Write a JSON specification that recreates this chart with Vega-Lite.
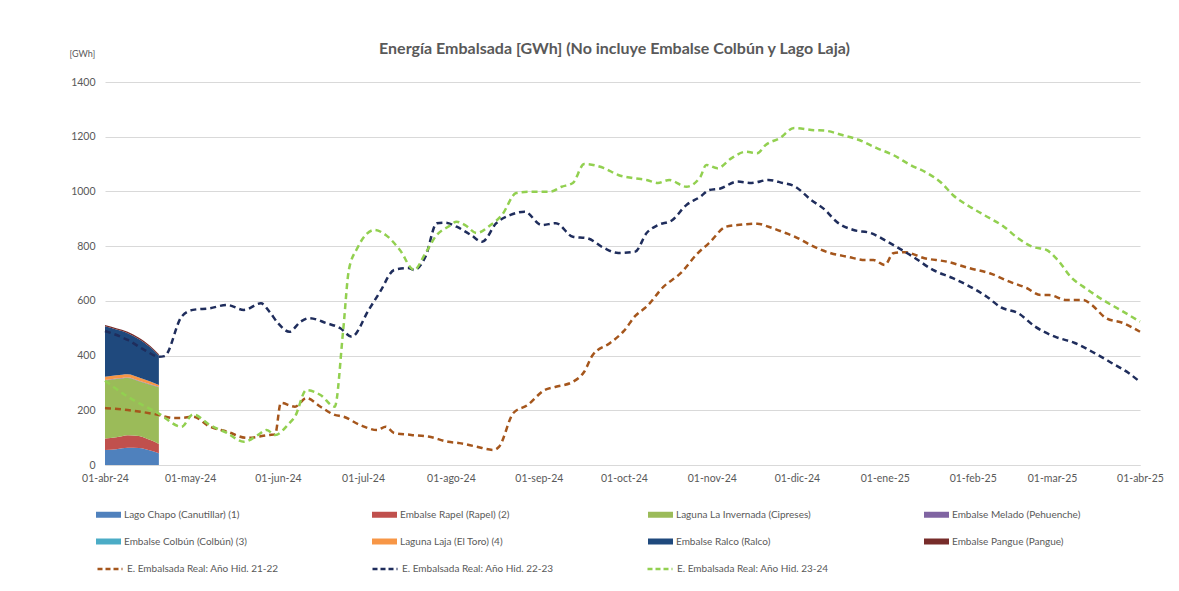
{
  "$schema": "https://vega.github.io/schema/vega-lite/v6.json",
  "width": 1035,
  "height": 383,
  "autosize": {"type": "none"},
  "padding": {"left": 105, "top": 82, "right": 39, "bottom": 126},
  "background": "white",
  "title": {
    "text": "Energía Embalsada [GWh] (No incluye Embalse Colbún y Lago Laja)",
    "anchor": "middle",
    "font": "Lato",
    "fontSize": 16,
    "fontWeight": "bold",
    "color": "#595959",
    "offset": -8,
    "dx": -8
  },
  "datasets": {
    "areas": [
      {"fecha": "2024-04-01", "orden": 1, "serie": "Lago Chapo (Canutillar) (1)", "valor": 55},
      {"fecha": "2024-04-05", "orden": 1, "serie": "Lago Chapo (Canutillar) (1)", "valor": 58},
      {"fecha": "2024-04-09", "orden": 1, "serie": "Lago Chapo (Canutillar) (1)", "valor": 63},
      {"fecha": "2024-04-13", "orden": 1, "serie": "Lago Chapo (Canutillar) (1)", "valor": 62},
      {"fecha": "2024-04-17", "orden": 1, "serie": "Lago Chapo (Canutillar) (1)", "valor": 53},
      {"fecha": "2024-04-20", "orden": 1, "serie": "Lago Chapo (Canutillar) (1)", "valor": 43},
      {"fecha": "2024-04-01", "orden": 2, "serie": "Embalse Rapel (Rapel) (2)", "valor": 42},
      {"fecha": "2024-04-05", "orden": 2, "serie": "Embalse Rapel (Rapel) (2)", "valor": 43},
      {"fecha": "2024-04-09", "orden": 2, "serie": "Embalse Rapel (Rapel) (2)", "valor": 46},
      {"fecha": "2024-04-13", "orden": 2, "serie": "Embalse Rapel (Rapel) (2)", "valor": 44},
      {"fecha": "2024-04-17", "orden": 2, "serie": "Embalse Rapel (Rapel) (2)", "valor": 38},
      {"fecha": "2024-04-20", "orden": 2, "serie": "Embalse Rapel (Rapel) (2)", "valor": 34},
      {"fecha": "2024-04-01", "orden": 3, "serie": "Laguna La Invernada (Cipreses)", "valor": 212},
      {"fecha": "2024-04-05", "orden": 3, "serie": "Laguna La Invernada (Cipreses)", "valor": 213},
      {"fecha": "2024-04-09", "orden": 3, "serie": "Laguna La Invernada (Cipreses)", "valor": 209},
      {"fecha": "2024-04-13", "orden": 3, "serie": "Laguna La Invernada (Cipreses)", "valor": 200},
      {"fecha": "2024-04-17", "orden": 3, "serie": "Laguna La Invernada (Cipreses)", "valor": 202},
      {"fecha": "2024-04-20", "orden": 3, "serie": "Laguna La Invernada (Cipreses)", "valor": 207},
      {"fecha": "2024-04-01", "orden": 4, "serie": "Embalse Melado (Pehuenche)", "valor": 2},
      {"fecha": "2024-04-05", "orden": 4, "serie": "Embalse Melado (Pehuenche)", "valor": 2},
      {"fecha": "2024-04-09", "orden": 4, "serie": "Embalse Melado (Pehuenche)", "valor": 2},
      {"fecha": "2024-04-13", "orden": 4, "serie": "Embalse Melado (Pehuenche)", "valor": 2},
      {"fecha": "2024-04-17", "orden": 4, "serie": "Embalse Melado (Pehuenche)", "valor": 2},
      {"fecha": "2024-04-20", "orden": 4, "serie": "Embalse Melado (Pehuenche)", "valor": 2},
      {"fecha": "2024-04-01", "orden": 5, "serie": "Embalse Colbún (Colbún) (3)", "valor": 0},
      {"fecha": "2024-04-20", "orden": 5, "serie": "Embalse Colbún (Colbún) (3)", "valor": 0},
      {"fecha": "2024-04-01", "orden": 6, "serie": "Laguna Laja (El Toro) (4)", "valor": 12},
      {"fecha": "2024-04-05", "orden": 6, "serie": "Laguna Laja (El Toro) (4)", "valor": 12},
      {"fecha": "2024-04-09", "orden": 6, "serie": "Laguna Laja (El Toro) (4)", "valor": 12},
      {"fecha": "2024-04-13", "orden": 6, "serie": "Laguna Laja (El Toro) (4)", "valor": 12},
      {"fecha": "2024-04-17", "orden": 6, "serie": "Laguna Laja (El Toro) (4)", "valor": 10},
      {"fecha": "2024-04-20", "orden": 6, "serie": "Laguna Laja (El Toro) (4)", "valor": 6},
      {"fecha": "2024-04-01", "orden": 7, "serie": "Embalse Ralco (Ralco)", "valor": 184},
      {"fecha": "2024-04-05", "orden": 7, "serie": "Embalse Ralco (Ralco)", "valor": 167},
      {"fecha": "2024-04-09", "orden": 7, "serie": "Embalse Ralco (Ralco)", "valor": 150},
      {"fecha": "2024-04-13", "orden": 7, "serie": "Embalse Ralco (Ralco)", "valor": 140},
      {"fecha": "2024-04-17", "orden": 7, "serie": "Embalse Ralco (Ralco)", "valor": 125},
      {"fecha": "2024-04-20", "orden": 7, "serie": "Embalse Ralco (Ralco)", "valor": 108},
      {"fecha": "2024-04-01", "orden": 8, "serie": "Embalse Pangue (Pangue)", "valor": 5},
      {"fecha": "2024-04-05", "orden": 8, "serie": "Embalse Pangue (Pangue)", "valor": 5},
      {"fecha": "2024-04-09", "orden": 8, "serie": "Embalse Pangue (Pangue)", "valor": 5},
      {"fecha": "2024-04-13", "orden": 8, "serie": "Embalse Pangue (Pangue)", "valor": 5},
      {"fecha": "2024-04-17", "orden": 8, "serie": "Embalse Pangue (Pangue)", "valor": 5},
      {"fecha": "2024-04-20", "orden": 8, "serie": "Embalse Pangue (Pangue)", "valor": 5}
    ],
    "lineas": [
      {"fecha": "2024-04-01", "serie": "E. Embalsada Real: Año Hid. 21-22", "valor": 208},
      {"fecha": "2024-04-09", "serie": "E. Embalsada Real: Año Hid. 21-22", "valor": 201},
      {"fecha": "2024-04-20", "serie": "E. Embalsada Real: Año Hid. 21-22", "valor": 183},
      {"fecha": "2024-04-25", "serie": "E. Embalsada Real: Año Hid. 21-22", "valor": 172},
      {"fecha": "2024-04-28", "serie": "E. Embalsada Real: Año Hid. 21-22", "valor": 172},
      {"fecha": "2024-05-02", "serie": "E. Embalsada Real: Año Hid. 21-22", "valor": 177},
      {"fecha": "2024-05-08", "serie": "E. Embalsada Real: Año Hid. 21-22", "valor": 140},
      {"fecha": "2024-05-14", "serie": "E. Embalsada Real: Año Hid. 21-22", "valor": 122},
      {"fecha": "2024-05-21", "serie": "E. Embalsada Real: Año Hid. 21-22", "valor": 99},
      {"fecha": "2024-05-29", "serie": "E. Embalsada Real: Año Hid. 21-22", "valor": 110},
      {"fecha": "2024-05-31", "serie": "E. Embalsada Real: Año Hid. 21-22", "valor": 112},
      {"fecha": "2024-06-02", "serie": "E. Embalsada Real: Año Hid. 21-22", "valor": 227},
      {"fecha": "2024-06-07", "serie": "E. Embalsada Real: Año Hid. 21-22", "valor": 213},
      {"fecha": "2024-06-11", "serie": "E. Embalsada Real: Año Hid. 21-22", "valor": 245},
      {"fecha": "2024-06-16", "serie": "E. Embalsada Real: Año Hid. 21-22", "valor": 213},
      {"fecha": "2024-06-21", "serie": "E. Embalsada Real: Año Hid. 21-22", "valor": 183},
      {"fecha": "2024-06-24", "serie": "E. Embalsada Real: Año Hid. 21-22", "valor": 177},
      {"fecha": "2024-06-30", "serie": "E. Embalsada Real: Año Hid. 21-22", "valor": 146},
      {"fecha": "2024-07-06", "serie": "E. Embalsada Real: Año Hid. 21-22", "valor": 128},
      {"fecha": "2024-07-09", "serie": "E. Embalsada Real: Año Hid. 21-22", "valor": 140},
      {"fecha": "2024-07-12", "serie": "E. Embalsada Real: Año Hid. 21-22", "valor": 117},
      {"fecha": "2024-07-18", "serie": "E. Embalsada Real: Año Hid. 21-22", "valor": 110},
      {"fecha": "2024-07-24", "serie": "E. Embalsada Real: Año Hid. 21-22", "valor": 104},
      {"fecha": "2024-07-31", "serie": "E. Embalsada Real: Año Hid. 21-22", "valor": 85},
      {"fecha": "2024-08-04", "serie": "E. Embalsada Real: Año Hid. 21-22", "valor": 80},
      {"fecha": "2024-08-10", "serie": "E. Embalsada Real: Año Hid. 21-22", "valor": 67},
      {"fecha": "2024-08-16", "serie": "E. Embalsada Real: Año Hid. 21-22", "valor": 55},
      {"fecha": "2024-08-18", "serie": "E. Embalsada Real: Año Hid. 21-22", "valor": 67},
      {"fecha": "2024-08-23", "serie": "E. Embalsada Real: Año Hid. 21-22", "valor": 190},
      {"fecha": "2024-08-28", "serie": "E. Embalsada Real: Año Hid. 21-22", "valor": 219},
      {"fecha": "2024-09-03", "serie": "E. Embalsada Real: Año Hid. 21-22", "valor": 274},
      {"fecha": "2024-09-07", "serie": "E. Embalsada Real: Año Hid. 21-22", "valor": 286},
      {"fecha": "2024-09-13", "serie": "E. Embalsada Real: Año Hid. 21-22", "valor": 304},
      {"fecha": "2024-09-17", "serie": "E. Embalsada Real: Año Hid. 21-22", "valor": 341},
      {"fecha": "2024-09-20", "serie": "E. Embalsada Real: Año Hid. 21-22", "valor": 402},
      {"fecha": "2024-09-26", "serie": "E. Embalsada Real: Año Hid. 21-22", "valor": 445},
      {"fecha": "2024-10-01", "serie": "E. Embalsada Real: Año Hid. 21-22", "valor": 490},
      {"fecha": "2024-10-05", "serie": "E. Embalsada Real: Año Hid. 21-22", "valor": 545},
      {"fecha": "2024-10-09", "serie": "E. Embalsada Real: Año Hid. 21-22", "valor": 579},
      {"fecha": "2024-10-15", "serie": "E. Embalsada Real: Año Hid. 21-22", "valor": 652},
      {"fecha": "2024-10-21", "serie": "E. Embalsada Real: Año Hid. 21-22", "valor": 701},
      {"fecha": "2024-10-27", "serie": "E. Embalsada Real: Año Hid. 21-22", "valor": 774},
      {"fecha": "2024-10-31", "serie": "E. Embalsada Real: Año Hid. 21-22", "valor": 811},
      {"fecha": "2024-11-06", "serie": "E. Embalsada Real: Año Hid. 21-22", "valor": 871},
      {"fecha": "2024-11-10", "serie": "E. Embalsada Real: Año Hid. 21-22", "valor": 877},
      {"fecha": "2024-11-17", "serie": "E. Embalsada Real: Año Hid. 21-22", "valor": 882},
      {"fecha": "2024-11-21", "serie": "E. Embalsada Real: Año Hid. 21-22", "valor": 871},
      {"fecha": "2024-11-27", "serie": "E. Embalsada Real: Año Hid. 21-22", "valor": 848},
      {"fecha": "2024-11-30", "serie": "E. Embalsada Real: Año Hid. 21-22", "valor": 836},
      {"fecha": "2024-12-07", "serie": "E. Embalsada Real: Año Hid. 21-22", "valor": 798},
      {"fecha": "2024-12-13", "serie": "E. Embalsada Real: Año Hid. 21-22", "valor": 774},
      {"fecha": "2024-12-19", "serie": "E. Embalsada Real: Año Hid. 21-22", "valor": 761},
      {"fecha": "2024-12-25", "serie": "E. Embalsada Real: Año Hid. 21-22", "valor": 749},
      {"fecha": "2024-12-28", "serie": "E. Embalsada Real: Año Hid. 21-22", "valor": 749},
      {"fecha": "2025-01-01", "serie": "E. Embalsada Real: Año Hid. 21-22", "valor": 731},
      {"fecha": "2025-01-04", "serie": "E. Embalsada Real: Año Hid. 21-22", "valor": 774},
      {"fecha": "2025-01-08", "serie": "E. Embalsada Real: Año Hid. 21-22", "valor": 778},
      {"fecha": "2025-01-15", "serie": "E. Embalsada Real: Año Hid. 21-22", "valor": 756},
      {"fecha": "2025-01-23", "serie": "E. Embalsada Real: Año Hid. 21-22", "valor": 743},
      {"fecha": "2025-01-31", "serie": "E. Embalsada Real: Año Hid. 21-22", "valor": 719},
      {"fecha": "2025-02-07", "serie": "E. Embalsada Real: Año Hid. 21-22", "valor": 701},
      {"fecha": "2025-02-14", "serie": "E. Embalsada Real: Año Hid. 21-22", "valor": 670},
      {"fecha": "2025-02-20", "serie": "E. Embalsada Real: Año Hid. 21-22", "valor": 647},
      {"fecha": "2025-02-25", "serie": "E. Embalsada Real: Año Hid. 21-22", "valor": 621},
      {"fecha": "2025-02-28", "serie": "E. Embalsada Real: Año Hid. 21-22", "valor": 621},
      {"fecha": "2025-03-06", "serie": "E. Embalsada Real: Año Hid. 21-22", "valor": 603},
      {"fecha": "2025-03-12", "serie": "E. Embalsada Real: Año Hid. 21-22", "valor": 603},
      {"fecha": "2025-03-15", "serie": "E. Embalsada Real: Año Hid. 21-22", "valor": 585},
      {"fecha": "2025-03-20", "serie": "E. Embalsada Real: Año Hid. 21-22", "valor": 537},
      {"fecha": "2025-03-26", "serie": "E. Embalsada Real: Año Hid. 21-22", "valor": 519},
      {"fecha": "2025-04-01", "serie": "E. Embalsada Real: Año Hid. 21-22", "valor": 487},
      {"fecha": "2024-04-01", "serie": "E. Embalsada Real: Año Hid. 22-23", "valor": 490},
      {"fecha": "2024-04-09", "serie": "E. Embalsada Real: Año Hid. 22-23", "valor": 457},
      {"fecha": "2024-04-15", "serie": "E. Embalsada Real: Año Hid. 22-23", "valor": 420},
      {"fecha": "2024-04-20", "serie": "E. Embalsada Real: Año Hid. 22-23", "valor": 396},
      {"fecha": "2024-04-22", "serie": "E. Embalsada Real: Año Hid. 22-23", "valor": 398},
      {"fecha": "2024-04-28", "serie": "E. Embalsada Real: Año Hid. 22-23", "valor": 542},
      {"fecha": "2024-05-02", "serie": "E. Embalsada Real: Año Hid. 22-23", "valor": 567},
      {"fecha": "2024-05-08", "serie": "E. Embalsada Real: Año Hid. 22-23", "valor": 573},
      {"fecha": "2024-05-14", "serie": "E. Embalsada Real: Año Hid. 22-23", "valor": 585},
      {"fecha": "2024-05-20", "serie": "E. Embalsada Real: Año Hid. 22-23", "valor": 567},
      {"fecha": "2024-05-26", "serie": "E. Embalsada Real: Año Hid. 22-23", "valor": 591},
      {"fecha": "2024-05-29", "serie": "E. Embalsada Real: Año Hid. 22-23", "valor": 560},
      {"fecha": "2024-06-01", "serie": "E. Embalsada Real: Año Hid. 22-23", "valor": 519},
      {"fecha": "2024-06-05", "serie": "E. Embalsada Real: Año Hid. 22-23", "valor": 487},
      {"fecha": "2024-06-09", "serie": "E. Embalsada Real: Año Hid. 22-23", "valor": 524},
      {"fecha": "2024-06-12", "serie": "E. Embalsada Real: Año Hid. 22-23", "valor": 537},
      {"fecha": "2024-06-18", "serie": "E. Embalsada Real: Año Hid. 22-23", "valor": 519},
      {"fecha": "2024-06-23", "serie": "E. Embalsada Real: Año Hid. 22-23", "valor": 500},
      {"fecha": "2024-06-27", "serie": "E. Embalsada Real: Año Hid. 22-23", "valor": 469},
      {"fecha": "2024-07-03", "serie": "E. Embalsada Real: Año Hid. 22-23", "valor": 567},
      {"fecha": "2024-07-07", "serie": "E. Embalsada Real: Año Hid. 22-23", "valor": 633},
      {"fecha": "2024-07-12", "serie": "E. Embalsada Real: Año Hid. 22-23", "valor": 713},
      {"fecha": "2024-07-17", "serie": "E. Embalsada Real: Año Hid. 22-23", "valor": 720},
      {"fecha": "2024-07-19", "serie": "E. Embalsada Real: Año Hid. 22-23", "valor": 713},
      {"fecha": "2024-07-23", "serie": "E. Embalsada Real: Año Hid. 22-23", "valor": 761},
      {"fecha": "2024-07-27", "serie": "E. Embalsada Real: Año Hid. 22-23", "valor": 884},
      {"fecha": "2024-07-30", "serie": "E. Embalsada Real: Año Hid. 22-23", "valor": 886},
      {"fecha": "2024-08-03", "serie": "E. Embalsada Real: Año Hid. 22-23", "valor": 871},
      {"fecha": "2024-08-08", "serie": "E. Embalsada Real: Año Hid. 22-23", "valor": 841},
      {"fecha": "2024-08-12", "serie": "E. Embalsada Real: Año Hid. 22-23", "valor": 816},
      {"fecha": "2024-08-17", "serie": "E. Embalsada Real: Año Hid. 22-23", "valor": 884},
      {"fecha": "2024-08-22", "serie": "E. Embalsada Real: Año Hid. 22-23", "valor": 914},
      {"fecha": "2024-08-27", "serie": "E. Embalsada Real: Año Hid. 22-23", "valor": 926},
      {"fecha": "2024-09-02", "serie": "E. Embalsada Real: Año Hid. 22-23", "valor": 877},
      {"fecha": "2024-09-07", "serie": "E. Embalsada Real: Año Hid. 22-23", "valor": 884},
      {"fecha": "2024-09-13", "serie": "E. Embalsada Real: Año Hid. 22-23", "valor": 834},
      {"fecha": "2024-09-18", "serie": "E. Embalsada Real: Año Hid. 22-23", "valor": 829},
      {"fecha": "2024-09-24", "serie": "E. Embalsada Real: Año Hid. 22-23", "valor": 793},
      {"fecha": "2024-09-29", "serie": "E. Embalsada Real: Año Hid. 22-23", "valor": 775},
      {"fecha": "2024-10-05", "serie": "E. Embalsada Real: Año Hid. 22-23", "valor": 780},
      {"fecha": "2024-10-09", "serie": "E. Embalsada Real: Año Hid. 22-23", "valor": 848},
      {"fecha": "2024-10-13", "serie": "E. Embalsada Real: Año Hid. 22-23", "valor": 877},
      {"fecha": "2024-10-18", "serie": "E. Embalsada Real: Año Hid. 22-23", "valor": 895},
      {"fecha": "2024-10-23", "serie": "E. Embalsada Real: Año Hid. 22-23", "valor": 950},
      {"fecha": "2024-10-28", "serie": "E. Embalsada Real: Año Hid. 22-23", "valor": 981},
      {"fecha": "2024-10-31", "serie": "E. Embalsada Real: Año Hid. 22-23", "valor": 1005},
      {"fecha": "2024-11-04", "serie": "E. Embalsada Real: Año Hid. 22-23", "valor": 1011},
      {"fecha": "2024-11-10", "serie": "E. Embalsada Real: Año Hid. 22-23", "valor": 1036},
      {"fecha": "2024-11-15", "serie": "E. Embalsada Real: Año Hid. 22-23", "valor": 1031},
      {"fecha": "2024-11-21", "serie": "E. Embalsada Real: Año Hid. 22-23", "valor": 1042},
      {"fecha": "2024-11-26", "serie": "E. Embalsada Real: Año Hid. 22-23", "valor": 1031},
      {"fecha": "2024-11-30", "serie": "E. Embalsada Real: Año Hid. 22-23", "valor": 1020},
      {"fecha": "2024-12-06", "serie": "E. Embalsada Real: Año Hid. 22-23", "valor": 969},
      {"fecha": "2024-12-11", "serie": "E. Embalsada Real: Año Hid. 22-23", "valor": 932},
      {"fecha": "2024-12-15", "serie": "E. Embalsada Real: Año Hid. 22-23", "valor": 889},
      {"fecha": "2024-12-21", "serie": "E. Embalsada Real: Año Hid. 22-23", "valor": 859},
      {"fecha": "2024-12-27", "serie": "E. Embalsada Real: Año Hid. 22-23", "valor": 848},
      {"fecha": "2025-01-02", "serie": "E. Embalsada Real: Año Hid. 22-23", "valor": 816},
      {"fecha": "2025-01-05", "serie": "E. Embalsada Real: Año Hid. 22-23", "valor": 798},
      {"fecha": "2025-01-11", "serie": "E. Embalsada Real: Año Hid. 22-23", "valor": 761},
      {"fecha": "2025-01-18", "serie": "E. Embalsada Real: Año Hid. 22-23", "valor": 713},
      {"fecha": "2025-01-25", "serie": "E. Embalsada Real: Año Hid. 22-23", "valor": 683},
      {"fecha": "2025-01-30", "serie": "E. Embalsada Real: Año Hid. 22-23", "valor": 658},
      {"fecha": "2025-02-06", "serie": "E. Embalsada Real: Año Hid. 22-23", "valor": 615},
      {"fecha": "2025-02-11", "serie": "E. Embalsada Real: Año Hid. 22-23", "valor": 576},
      {"fecha": "2025-02-17", "serie": "E. Embalsada Real: Año Hid. 22-23", "valor": 555},
      {"fecha": "2025-02-23", "serie": "E. Embalsada Real: Año Hid. 22-23", "valor": 506},
      {"fecha": "2025-03-02", "serie": "E. Embalsada Real: Año Hid. 22-23", "valor": 469},
      {"fecha": "2025-03-09", "serie": "E. Embalsada Real: Año Hid. 22-23", "valor": 446},
      {"fecha": "2025-03-16", "serie": "E. Embalsada Real: Año Hid. 22-23", "valor": 409},
      {"fecha": "2025-03-22", "serie": "E. Embalsada Real: Año Hid. 22-23", "valor": 373},
      {"fecha": "2025-03-28", "serie": "E. Embalsada Real: Año Hid. 22-23", "valor": 336},
      {"fecha": "2025-04-01", "serie": "E. Embalsada Real: Año Hid. 22-23", "valor": 304},
      {"fecha": "2024-04-01", "serie": "E. Embalsada Real: Año Hid. 23-24", "valor": 308},
      {"fecha": "2024-04-09", "serie": "E. Embalsada Real: Año Hid. 23-24", "valor": 250},
      {"fecha": "2024-04-20", "serie": "E. Embalsada Real: Año Hid. 23-24", "valor": 188},
      {"fecha": "2024-04-28", "serie": "E. Embalsada Real: Año Hid. 23-24", "valor": 140},
      {"fecha": "2024-05-02", "serie": "E. Embalsada Real: Año Hid. 23-24", "valor": 185},
      {"fecha": "2024-05-08", "serie": "E. Embalsada Real: Año Hid. 23-24", "valor": 146},
      {"fecha": "2024-05-14", "serie": "E. Embalsada Real: Año Hid. 23-24", "valor": 117},
      {"fecha": "2024-05-20", "serie": "E. Embalsada Real: Año Hid. 23-24", "valor": 85},
      {"fecha": "2024-05-25", "serie": "E. Embalsada Real: Año Hid. 23-24", "valor": 110},
      {"fecha": "2024-05-28", "serie": "E. Embalsada Real: Año Hid. 23-24", "valor": 128},
      {"fecha": "2024-05-31", "serie": "E. Embalsada Real: Año Hid. 23-24", "valor": 110},
      {"fecha": "2024-06-05", "serie": "E. Embalsada Real: Año Hid. 23-24", "valor": 153},
      {"fecha": "2024-06-07", "serie": "E. Embalsada Real: Año Hid. 23-24", "valor": 177},
      {"fecha": "2024-06-11", "serie": "E. Embalsada Real: Año Hid. 23-24", "valor": 274},
      {"fecha": "2024-06-16", "serie": "E. Embalsada Real: Año Hid. 23-24", "valor": 256},
      {"fecha": "2024-06-21", "serie": "E. Embalsada Real: Año Hid. 23-24", "valor": 213},
      {"fecha": "2024-06-24", "serie": "E. Embalsada Real: Año Hid. 23-24", "valor": 493},
      {"fecha": "2024-06-26", "serie": "E. Embalsada Real: Año Hid. 23-24", "valor": 713},
      {"fecha": "2024-06-29", "serie": "E. Embalsada Real: Año Hid. 23-24", "valor": 793},
      {"fecha": "2024-07-05", "serie": "E. Embalsada Real: Año Hid. 23-24", "valor": 859},
      {"fecha": "2024-07-09", "serie": "E. Embalsada Real: Año Hid. 23-24", "valor": 841},
      {"fecha": "2024-07-14", "serie": "E. Embalsada Real: Año Hid. 23-24", "valor": 786},
      {"fecha": "2024-07-19", "serie": "E. Embalsada Real: Año Hid. 23-24", "valor": 713},
      {"fecha": "2024-07-23", "serie": "E. Embalsada Real: Año Hid. 23-24", "valor": 774},
      {"fecha": "2024-07-27", "serie": "E. Embalsada Real: Año Hid. 23-24", "valor": 841},
      {"fecha": "2024-07-31", "serie": "E. Embalsada Real: Año Hid. 23-24", "valor": 871},
      {"fecha": "2024-08-03", "serie": "E. Embalsada Real: Año Hid. 23-24", "valor": 889},
      {"fecha": "2024-08-06", "serie": "E. Embalsada Real: Año Hid. 23-24", "valor": 877},
      {"fecha": "2024-08-10", "serie": "E. Embalsada Real: Año Hid. 23-24", "valor": 848},
      {"fecha": "2024-08-15", "serie": "E. Embalsada Real: Año Hid. 23-24", "valor": 877},
      {"fecha": "2024-08-19", "serie": "E. Embalsada Real: Año Hid. 23-24", "valor": 914},
      {"fecha": "2024-08-24", "serie": "E. Embalsada Real: Año Hid. 23-24", "valor": 994},
      {"fecha": "2024-08-29", "serie": "E. Embalsada Real: Año Hid. 23-24", "valor": 999},
      {"fecha": "2024-09-05", "serie": "E. Embalsada Real: Año Hid. 23-24", "valor": 999},
      {"fecha": "2024-09-09", "serie": "E. Embalsada Real: Año Hid. 23-24", "valor": 1017},
      {"fecha": "2024-09-13", "serie": "E. Embalsada Real: Año Hid. 23-24", "valor": 1031},
      {"fecha": "2024-09-17", "serie": "E. Embalsada Real: Año Hid. 23-24", "valor": 1100},
      {"fecha": "2024-09-24", "serie": "E. Embalsada Real: Año Hid. 23-24", "valor": 1085},
      {"fecha": "2024-09-29", "serie": "E. Embalsada Real: Año Hid. 23-24", "valor": 1060},
      {"fecha": "2024-10-04", "serie": "E. Embalsada Real: Año Hid. 23-24", "valor": 1049},
      {"fecha": "2024-10-09", "serie": "E. Embalsada Real: Año Hid. 23-24", "valor": 1042},
      {"fecha": "2024-10-13", "serie": "E. Embalsada Real: Año Hid. 23-24", "valor": 1031},
      {"fecha": "2024-10-17", "serie": "E. Embalsada Real: Año Hid. 23-24", "valor": 1042},
      {"fecha": "2024-10-23", "serie": "E. Embalsada Real: Año Hid. 23-24", "valor": 1017},
      {"fecha": "2024-10-28", "serie": "E. Embalsada Real: Año Hid. 23-24", "valor": 1054},
      {"fecha": "2024-10-30", "serie": "E. Embalsada Real: Año Hid. 23-24", "valor": 1097},
      {"fecha": "2024-11-03", "serie": "E. Embalsada Real: Año Hid. 23-24", "valor": 1085},
      {"fecha": "2024-11-08", "serie": "E. Embalsada Real: Año Hid. 23-24", "valor": 1122},
      {"fecha": "2024-11-13", "serie": "E. Embalsada Real: Año Hid. 23-24", "valor": 1145},
      {"fecha": "2024-11-17", "serie": "E. Embalsada Real: Año Hid. 23-24", "valor": 1140},
      {"fecha": "2024-11-20", "serie": "E. Embalsada Real: Año Hid. 23-24", "valor": 1170},
      {"fecha": "2024-11-25", "serie": "E. Embalsada Real: Año Hid. 23-24", "valor": 1195},
      {"fecha": "2024-11-30", "serie": "E. Embalsada Real: Año Hid. 23-24", "valor": 1232},
      {"fecha": "2024-12-07", "serie": "E. Embalsada Real: Año Hid. 23-24", "valor": 1224},
      {"fecha": "2024-12-11", "serie": "E. Embalsada Real: Año Hid. 23-24", "valor": 1222},
      {"fecha": "2024-12-17", "serie": "E. Embalsada Real: Año Hid. 23-24", "valor": 1206},
      {"fecha": "2024-12-23", "serie": "E. Embalsada Real: Año Hid. 23-24", "valor": 1188},
      {"fecha": "2024-12-29", "serie": "E. Embalsada Real: Año Hid. 23-24", "valor": 1159},
      {"fecha": "2025-01-04", "serie": "E. Embalsada Real: Año Hid. 23-24", "valor": 1133},
      {"fecha": "2025-01-10", "serie": "E. Embalsada Real: Año Hid. 23-24", "valor": 1097},
      {"fecha": "2025-01-16", "serie": "E. Embalsada Real: Año Hid. 23-24", "valor": 1067},
      {"fecha": "2025-01-21", "serie": "E. Embalsada Real: Año Hid. 23-24", "valor": 1031},
      {"fecha": "2025-01-25", "serie": "E. Embalsada Real: Año Hid. 23-24", "valor": 987},
      {"fecha": "2025-01-31", "serie": "E. Embalsada Real: Año Hid. 23-24", "valor": 944},
      {"fecha": "2025-02-05", "serie": "E. Embalsada Real: Año Hid. 23-24", "valor": 914},
      {"fecha": "2025-02-12", "serie": "E. Embalsada Real: Año Hid. 23-24", "valor": 871},
      {"fecha": "2025-02-17", "serie": "E. Embalsada Real: Año Hid. 23-24", "valor": 829},
      {"fecha": "2025-02-22", "serie": "E. Embalsada Real: Año Hid. 23-24", "valor": 798},
      {"fecha": "2025-02-27", "serie": "E. Embalsada Real: Año Hid. 23-24", "valor": 786},
      {"fecha": "2025-03-03", "serie": "E. Embalsada Real: Año Hid. 23-24", "valor": 749},
      {"fecha": "2025-03-08", "serie": "E. Embalsada Real: Año Hid. 23-24", "valor": 683},
      {"fecha": "2025-03-12", "serie": "E. Embalsada Real: Año Hid. 23-24", "valor": 652},
      {"fecha": "2025-03-19", "serie": "E. Embalsada Real: Año Hid. 23-24", "valor": 603},
      {"fecha": "2025-03-25", "serie": "E. Embalsada Real: Año Hid. 23-24", "valor": 567},
      {"fecha": "2025-04-01", "serie": "E. Embalsada Real: Año Hid. 23-24", "valor": 524}
    ]
  },
  "encoding": {
    "x": {
      "field": "fecha",
      "type": "temporal",
      "scale": {
        "type": "utc",
        "nice": false,
        "domain": [
          {"year": 2024, "month": 4, "date": 1, "utc": true},
          {"year": 2025, "month": 4, "date": 1, "utc": true}
        ]
      },
      "axis": {
        "title": null,
        "tickCount": {"interval": "month", "step": 1},
        "labelExpr": "utcFormat(datum.value,'%d') + '-' + ['ene','feb','mar','abr','may','jun','jul','ago','sep','oct','nov','dic'][utcmonth(datum.value)] + '-' + utcFormat(datum.value,'%y')",
        "labelFlush": false,
        "labelOverlap": false,
        "labelFont": "Lato",
        "labelFontSize": 10.5,
        "labelColor": "#595959",
        "labelPadding": 8,
        "ticks": false,
        "grid": false,
        "domainColor": "#d9d9d9",
        "domainWidth": 1
      }
    },
    "y": {
      "field": "valor",
      "type": "quantitative",
      "scale": {"domain": [0, 1400], "nice": false},
      "axis": {
        "title": "[GWh]",
        "titleAngle": 0,
        "titleAlign": "left",
        "titleBaseline": "middle",
        "titleX": -36,
        "titleY": -29,
        "titleFont": "Lato",
        "titleFontSize": 9,
        "titleFontWeight": "normal",
        "titleColor": "#595959",
        "values": [0, 200, 400, 600, 800, 1000, 1200, 1400],
        "format": "d",
        "labelFont": "Lato",
        "labelFontSize": 10.5,
        "labelColor": "#595959",
        "labelPadding": 10,
        "ticks": false,
        "domain": false,
        "gridColor": "#d9d9d9",
        "gridWidth": 1
      }
    }
  },
  "layer": [
    {
      "data": {"name": "areas"},
      "mark": {"type": "area", "opacity": 1, "interpolate": "monotone"},
      "encoding": {
        "order": {"field": "orden", "type": "quantitative", "sort": "ascending"},
        "fill": {
          "field": "serie",
          "type": "nominal",
          "scale": {
            "domain": [
              "Lago Chapo (Canutillar) (1)",
              "Embalse Rapel (Rapel) (2)",
              "Laguna La Invernada (Cipreses)",
              "Embalse Melado (Pehuenche)",
              "Embalse Colbún (Colbún) (3)",
              "Laguna Laja (El Toro) (4)",
              "Embalse Ralco (Ralco)",
              "Embalse Pangue (Pangue)"
            ],
            "range": ["#4F81BD", "#C0504D", "#9BBB59", "#8064A2", "#4BACC6", "#F79646", "#1F497D", "#772C2A"]
          },
          "legend": {
            "title": null,
            "orient": "none",
            "legendX": -9,
            "legendY": 420,
            "direction": "horizontal",
            "columns": 4,
            "gridAlign": "all",
            "columnPadding": 113,
            "rowPadding": 9,
            "symbolType": "M-1,-0.24L1,-0.24L1,0.24L-1,0.24Z",
            "symbolSize": 625,
            "symbolStrokeWidth": 0,
            "labelOffset": 3,
            "labelFont": "Lato",
            "labelFontSize": 10,
            "labelColor": "#595959",
            "labelLimit": 300
          }
        }
      }
    },
    {
      "data": {"name": "lineas"},
      "mark": {"type": "line", "strokeWidth": 2.5, "strokeDash": [6, 4], "interpolate": "monotone"},
      "encoding": {
        "stroke": {
          "field": "serie",
          "type": "nominal",
          "scale": {
            "domain": [
              "E. Embalsada Real: Año Hid. 21-22",
              "E. Embalsada Real: Año Hid. 22-23",
              "E. Embalsada Real: Año Hid. 23-24"
            ],
            "range": ["#A5561C", "#1F2D5C", "#92D050"]
          },
          "legend": {
            "title": null,
            "orient": "none",
            "legendX": -9,
            "legendY": 473,
            "direction": "horizontal",
            "columns": 4,
            "gridAlign": "all",
            "columnPadding": 88,
            "symbolType": "stroke",
            "symbolSize": 625,
            "symbolStrokeWidth": 2.5,
            "symbolDash": [5, 3],
            "labelOffset": 3,
            "labelFont": "Lato",
            "labelFontSize": 10,
            "labelColor": "#595959",
            "labelLimit": 300
          }
        }
      }
    }
  ],
  "config": {
    "view": {"stroke": null},
    "font": "Lato"
  }
}
